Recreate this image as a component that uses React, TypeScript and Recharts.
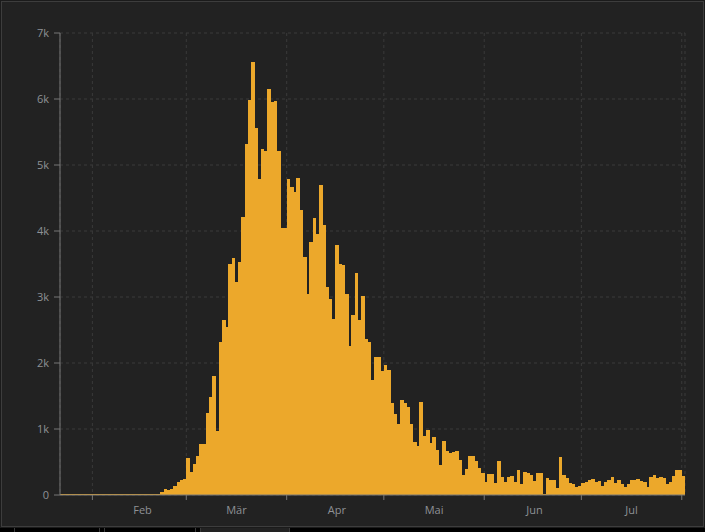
import React from 'react';
import { BarChart, Bar, XAxis, YAxis, CartesianGrid } from 'recharts';

// Daily new cases, 22 Jan – 1 Aug (one array per month)
const janValues = [0, 0, 0, 0, 0, 0, 0, 0, 0, 2];
const febValues = [0, 0, 0, 0, 0, 0, 1, 0, 0, 0, 0, 0, 0, 0, 0, 0, 0, 0, 0, 0, 17, 42, 93, 74, 93, 131, 202, 233, 240];
const marValues = [566, 342, 466, 587, 769, 778, 1247, 1492, 1797, 977, 2313, 2651, 2547, 3497, 3590, 3233, 3526, 4207, 5322, 5986, 6557, 5560, 4789, 5249, 5210, 6153, 5959, 5974, 5217, 4050, 4053];
const aprValues = [4782, 4668, 4585, 4805, 4316, 3599, 3039, 3836, 4204, 3951, 4694, 4092, 3153, 2972, 2667, 3786, 3493, 3491, 3047, 2256, 2729, 3370, 2646, 3021, 2357, 2324, 1739, 2091, 2086, 1872];
const mayValues = [1965, 1900, 1389, 1221, 1075, 1444, 1401, 1327, 1083, 802, 744, 1402, 888, 992, 789, 875, 675, 451, 813, 665, 642, 652, 669, 531, 300, 397, 584, 593, 516, 416, 333];
const junValues = [200, 318, 321, 177, 518, 270, 197, 280, 283, 202, 379, 163, 346, 338, 301, 210, 328, 331, 0, 264, 224, 221, 113, 577, 296, 255, 175, 174, 126, 142];
const julValues = [182, 201, 223, 235, 192, 208, 138, 193, 229, 276, 188, 234, 169, 114, 162, 230, 233, 249, 218, 190, 128, 280, 306, 252, 274, 254, 168, 202, 288, 382, 379];
const augValues = [295];

const monthLabels = ['Feb', 'Mär', 'Apr', 'Mai', 'Jun', 'Jul'];
const yTicks = [0, 1000, 2000, 3000, 4000, 5000, 6000, 7000];
const START_DATE = '2020-01-22';

const allValues = [
  ...janValues, ...febValues, ...marValues, ...aprValues,
  ...mayValues, ...junValues, ...julValues, ...augValues,
];
const monthArrays = [janValues, febValues, marValues, aprValues, mayValues, junValues, julValues];
const monthStarts: number[] = [];
{
  let acc = 0;
  for (const arr of monthArrays) {
    acc += arr.length;
    monthStarts.push(acc);
  }
}
const DAY_COUNT = allValues.length;

const startMs = Date.parse(START_DATE + 'T00:00:00Z');
const data = allValues.map((v, i) => ({
  day: new Date(startMs + i * 86400000).toISOString().slice(0, 10),
  t: i,
  v,
}));

const W = 705;
const H = 532;
const MARGIN = { top: 33, right: 20, left: 0, bottom: 7 };
const Y_W = 60;
const PLOT_W = W - MARGIN.left - MARGIN.right - Y_W;
const BAND = PLOT_W / DAY_COUNT;
const LABEL_SHIFT = 15.5 * BAND;

const BAR = '#eca82b';
const TEXT = '#8e9195';
const FONT = '"Open Sans", "Noto Sans", sans-serif';

const MonthTick = (props: any) => {
  const { x, y, payload } = props;
  const k = monthStarts.indexOf(payload.value);
  if (k < 0 || k >= monthLabels.length) return <g />;
  return (
    <text x={x + LABEL_SHIFT} y={y} dy="0.71em" textAnchor="middle" fill={TEXT} fontSize={11} fontFamily={FONT}>
      {monthLabels[k]}
    </text>
  );
};

// Bar shape that fills the whole day band (Recharts floors bar widths to integers)
const DayBar = (p: any) => {
  if (p.height == null || p.width == null) return <g />;
  return (
    <rect
      x={p.x}
      y={p.y}
      width={Math.max(p.width, BAND) + 0.4}
      height={p.height}
      fill={BAR}
      shapeRendering="crispEdges"
    />
  );
};

const fmtK = (v: number) => (v === 0 ? '0' : `${v / 1000}k`);

export default function App() {
  return (
    <div style={{ position: 'absolute', left: 0, top: 0, width: W, height: H, background: '#000', overflow: 'hidden' }}>
      <div style={{ position: 'absolute', left: 0, top: 0, width: W, height: 528, background: '#1b1b1b' }} />
      <div
        style={{
          position: 'absolute', left: 1, top: 1, width: 703, height: 526,
          boxSizing: 'border-box', border: '1px solid #3d3d3d', background: '#222222',
        }}
      />
      <div style={{ position: 'absolute', left: 14, top: 528, width: 86, height: 6, boxSizing: 'border-box', borderLeft: '1px solid #3a3a3a', borderRight: '1px solid #3a3a3a' }} />
      <div style={{ position: 'absolute', left: 104, top: 528, width: 92, height: 6, boxSizing: 'border-box', borderLeft: '1px solid #3a3a3a', borderRight: '1px solid #3a3a3a' }} />
      <div style={{ position: 'absolute', left: 200, top: 528, width: 90, height: 6, boxSizing: 'border-box', borderLeft: '1px solid #3a3a3a', borderRight: '1px solid #3a3a3a', background: '#222222' }} />
      <div style={{ position: 'absolute', left: 0, top: 0 }}>
        <BarChart width={W} height={H} data={data} margin={MARGIN} barCategoryGap={0} barGap={0}>
          <CartesianGrid xAxisId="time" yAxisId="y" stroke="#3a3a3a" strokeDasharray="3 3" />
          <Bar
            dataKey="v"
            xAxisId="bars"
            yAxisId="y"
            fill={BAR}
            minPointSize={1}
            shape={<DayBar />}
            isAnimationActive={false}
          />
          <XAxis xAxisId="bars" dataKey="day" type="category" hide height={0} />
          <XAxis
            xAxisId="time"
            dataKey="t"
            type="number"
            domain={[0, DAY_COUNT]}
            allowDataOverflow
            ticks={monthStarts}
            interval={0}
            height={30}
            axisLine={{ stroke: '#777' }}
            tickLine={{ stroke: '#777' }}
            tickSize={5}
            tickMargin={6}
            tick={<MonthTick />}
          />
          <YAxis
            yAxisId="y"
            type="number"
            domain={[0, 7000]}
            ticks={yTicks}
            interval={0}
            width={Y_W}
            tickFormatter={fmtK}
            axisLine={{ stroke: '#777' }}
            tickLine={{ stroke: '#777' }}
            tickSize={6}
            tickMargin={5}
            tick={{ fill: TEXT, fontSize: 11, fontFamily: FONT }}
          />
        </BarChart>
      </div>
    </div>
  );
}
